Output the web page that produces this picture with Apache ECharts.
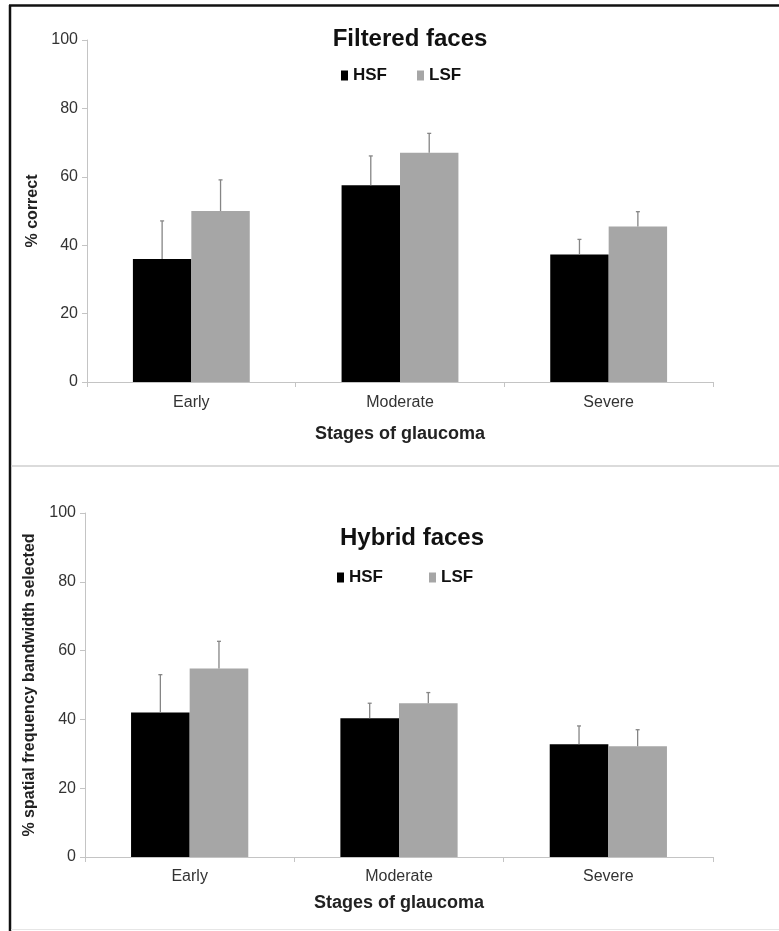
<!DOCTYPE html>
<html>
<head>
<meta charset="utf-8">
<script src="https://cdn.jsdelivr.net/npm/echarts@6/dist/echarts.min.js"></script>
<style>
html,body{margin:0;padding:0;background:#fff;}
#chart{width:779px;height:931px;}
</style>
</head>
<body>
<div id="chart"></div>
<script>
// ---- data ----
var categories = ['Early', 'Moderate', 'Severe'];
var seriesNames = ['HSF', 'LSF'];
var yTicks = [0, 20, 40, 60, 80, 100];

// Filtered faces (% correct)
var filteredHSF = [36.0, 57.5, 37.3];
var filteredLSF = [50.0, 67.0, 45.5];
var filteredHSFErr = [11.1, 8.6, 4.4];
var filteredLSFErr = [9.1, 5.7, 4.3];

// Hybrid faces (% spatial frequency bandwidth selected)
var hybridHSF = [42.0, 40.3, 32.8];
var hybridLSF = [54.8, 44.7, 32.2];
var hybridHSFErr = [11.0, 4.4, 5.3];
var hybridLSFErr = [7.9, 3.1, 4.8];

var FONT = "'Liberation Sans', Arial, sans-serif";
var HSF_COLOR = '#000000';
var LSF_COLOR = '#a6a6a6';
var ERR_COLOR = '#858585';
var BAR_FRAC = 0.28;

function errData(vals, errs) {
  return vals.map(function (v, i) { return [i, v, v + errs[i]]; });
}

function errSeries(name, vals, errs, gridIdx, sign) {
  return {
    type: 'custom',
    name: name + ' error',
    xAxisIndex: gridIdx,
    yAxisIndex: gridIdx,
    z: 5,
    silent: true,
    encode: { x: 0, y: [1, 2] },
    data: errData(vals, errs),
    renderItem: function (params, api) {
      var band = api.size([1, 0])[0];
      var off = sign * band * BAR_FRAC / 2;
      var p0 = api.coord([api.value(0), api.value(1)]);
      var p1 = api.coord([api.value(0), api.value(2)]);
      var x = p0[0] + off;
      return {
        type: 'group',
        children: [
          { type: 'line', shape: { x1: x, y1: p0[1], x2: x, y2: p1[1] },
            style: { stroke: ERR_COLOR, lineWidth: 1.3 } },
          { type: 'line', shape: { x1: x - 2, y1: p1[1], x2: x + 2, y2: p1[1] },
            style: { stroke: ERR_COLOR, lineWidth: 1.3 } }
        ]
      };
    }
  };
}

function barSeries(name, vals, gridIdx, color) {
  return {
    type: 'bar',
    name: name,
    xAxisIndex: gridIdx,
    yAxisIndex: gridIdx,
    data: vals,
    barWidth: (BAR_FRAC * 100) + '%',
    barGap: '0%',
    itemStyle: { color: color },
    emphasis: { disabled: true }
  };
}

function xAxis(gridIdx, nameGap, labelMargin) {
  return {
    type: 'category',
    gridIndex: gridIdx,
    data: categories,
    name: 'Stages of glaucoma',
    nameLocation: 'middle',
    nameGap: nameGap,
    nameTextStyle: { fontFamily: FONT, fontWeight: 'bold', fontSize: 18, color: '#222' },
    axisLine: { show: true, lineStyle: { color: '#c4c4c4', width: 1 } },
    axisTick: { show: true, length: 5, lineStyle: { color: '#c4c4c4' } },
    axisLabel: { fontFamily: FONT, fontSize: 16, color: '#333', margin: labelMargin },
    splitLine: { show: false }
  };
}

function yAxis(gridIdx, name, nameGap) {
  return {
    type: 'value',
    gridIndex: gridIdx,
    min: yTicks[0],
    max: yTicks[yTicks.length - 1],
    interval: yTicks[1] - yTicks[0],
    name: name,
    nameLocation: 'middle',
    nameGap: nameGap,
    nameTextStyle: { fontFamily: FONT, fontWeight: 'bold', fontSize: 16, color: '#222' },
    axisLine: { show: true, lineStyle: { color: '#c4c4c4', width: 1 } },
    axisTick: { show: true, length: 5, lineStyle: { color: '#c4c4c4' } },
    axisLabel: { fontFamily: FONT, fontSize: 16, color: '#333', margin: 9 },
    splitLine: { show: false }
  };
}

function legend(top, left, gap) {
  return {
    top: top,
    left: left,
    itemWidth: 7,
    itemHeight: 10,
    itemGap: gap,
    icon: 'rect',
    selectedMode: false,
    data: seriesNames,
    textStyle: { fontFamily: FONT, fontWeight: 'bold', fontSize: 17, color: '#111' }
  };
}

var chart = echarts.init(document.getElementById('chart'), null, { renderer: 'canvas' });

var option = {
  backgroundColor: '#ffffff',
  animation: false,
  color: [HSF_COLOR, LSF_COLOR],
  title: [
    { text: 'Filtered faces', left: 405, top: 22, textAlign: 'center',
      textStyle: { fontFamily: FONT, fontWeight: 'bold', fontSize: 24, color: '#111' } },
    { text: 'Hybrid faces', left: 407, top: 521, textAlign: 'center',
      textStyle: { fontFamily: FONT, fontWeight: 'bold', fontSize: 24, color: '#111' } }
  ],
  legend: [legend(62, 336, 30), legend(564, 332, 46)],
  grid: [
    { left: 87, right: 66, top: 40, bottom: 549, containLabel: false },
    { left: 85, right: 66, top: 513, bottom: 74, containLabel: false }
  ],
  xAxis: [xAxis(0, 43, 13), xAxis(1, 37, 12)],
  yAxis: [yAxis(0, '% correct', 46), yAxis(1, '% spatial frequency bandwidth selected', 47)],
  series: [
    barSeries('HSF', filteredHSF, 0, HSF_COLOR),
    barSeries('LSF', filteredLSF, 0, LSF_COLOR),
    errSeries('HSF', filteredHSF, filteredHSFErr, 0, -1),
    errSeries('LSF', filteredLSF, filteredLSFErr, 0, 1),
    barSeries('HSF', hybridHSF, 1, HSF_COLOR),
    barSeries('LSF', hybridLSF, 1, LSF_COLOR),
    errSeries('HSF', hybridHSF, hybridHSFErr, 1, -1),
    errSeries('LSF', hybridLSF, hybridLSFErr, 1, 1)
  ],
  graphic: [
    { type: 'line', shape: { x1: 9, y1: 5.5, x2: 779, y2: 5.5 }, style: { stroke: '#111', lineWidth: 2.5 }, silent: true },
    { type: 'line', shape: { x1: 10, y1: 5, x2: 10, y2: 931 }, style: { stroke: '#111', lineWidth: 2.5 }, silent: true },
    { type: 'line', shape: { x1: 11, y1: 466, x2: 779, y2: 466 }, style: { stroke: '#cfcfcf', lineWidth: 1.5 }, silent: true },
    { type: 'line', shape: { x1: 11, y1: 929.5, x2: 779, y2: 929.5 }, style: { stroke: '#e6e6e6', lineWidth: 1 }, silent: true }
  ]
};

chart.setOption(option);
</script>
</body>
</html>
